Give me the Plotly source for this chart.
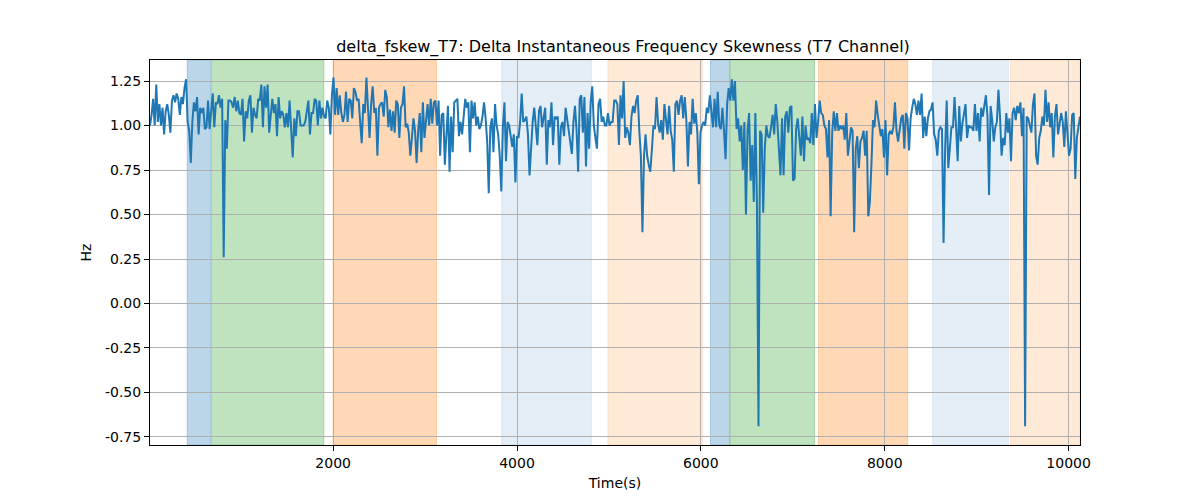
import numpy as np
import plotly.graph_objects as go

title = "delta_fskew_T7: Delta Instantaneous Frequency Skewness (T7 Channel)"
x_label = "Time(s)"
y_label = "Hz"

t_start, t_end = 8, 10124

values = [
    # segment 1
    1.00, 1.06, 1.15, 1.00, 1.23, 1.02, 1.12, 1.00, 1.10, 0.95, 1.08, 1.12, 1.06, 0.96,
    1.14, 1.17, 1.13, 1.18, 1.15, 1.06, 1.16, 1.12, 1.21, 1.26, 1.02, 0.97, 0.79, 1.02, 1.13, 1.08,
    1.16, 0.95, 1.10, 1.07, 1.10, 0.98, 0.99, 1.14, 0.98, 1.10, 1.18, 0.99, 1.13, 1.12, 1.17,
    1.10, 1.15, 0.26, 1.03, 0.87, 1.14, 1.14, 1.13, 1.10, 1.16, 1.08, 1.14, 1.07, 1.06, 1.15, 0.91, 1.08, 1.04, 1.14,
    1.17, 0.96, 1.10, 1.06, 1.04, 1.15, 1.14, 1.23, 0.99, 1.22, 1.10, 1.23, 0.96, 1.06, 1.15, 1.07,
    1.12, 0.94, 1.16, 1.04, 1.08, 1.06, 0.99, 1.07, 0.99, 1.14, 1.00, 0.82, 1.04, 0.94, 1.08, 1.08,
    1.00, 1.00, 1.00, 1.02, 1.08, 1.14, 0.95, 1.07, 1.07, 1.15, 1.14, 1.00, 1.14, 1.04, 1.10, 1.05,
    1.04, 1.14, 1.10, 0.95, 1.17, 1.27, 1.06, 1.21, 1.06, 1.17, 1.07, 1.02, 1.06,
    # segment 2
    1.19, 1.02, 1.15, 1.14, 1.04, 1.21, 1.19, 1.14, 1.15, 1.02, 0.90, 1.12, 1.07, 1.27, 1.11, 0.93,
    1.12, 1.22, 1.07, 1.10, 0.83, 1.10, 1.12, 1.13, 1.05, 1.20, 1.16, 0.99, 1.09, 0.97, 1.08, 0.96,
    1.14, 1.12, 0.93, 1.10, 1.12, 1.22, 0.99, 1.01, 0.96, 0.83, 0.93, 1.04, 0.97, 0.79, 0.97, 1.07,
    0.85, 1.13, 0.93, 1.05, 1.12, 1.00, 1.15, 1.01, 1.13, 1.14, 1.00, 1.14, 0.83, 1.06, 1.07, 0.78,
    0.99, 1.11, 0.74, 1.05, 0.85, 1.13, 1.14, 1.15, 0.94, 1.02, 0.95, 1.07, 1.15, 1.10, 1.13, 0.85,
    1.14, 1.04, 1.13, 1.00, 1.05, 0.98, 1.00, 1.05, 1.13, 1.04, 0.91, 0.62, 0.99, 1.04, 0.85, 1.12,
    1.00, 0.95, 0.83, 0.63, 0.99, 1.13, 0.80, 1.02, 1.00, 0.94, 0.88, 0.95, 0.68, 0.94, 0.93, 1.02,
    # segment 3
    1.18, 1.02, 1.03, 1.05, 0.95, 0.72, 0.89, 1.02, 1.10, 0.97, 0.89, 1.08, 1.11, 0.99, 1.04, 1.10,
    0.78, 1.03, 0.99, 1.13, 0.89, 1.05, 1.04, 1.05, 0.78, 0.99, 1.02, 0.94, 1.10, 1.04, 0.96, 0.91,
    0.84, 1.02, 1.11, 0.97, 0.74, 1.15, 1.17, 0.96, 1.16, 0.77, 1.07, 0.87, 1.13, 1.22, 1.00, 0.93,
    0.87, 1.12, 1.15, 1.02, 1.05, 1.00, 1.00, 1.07, 1.00, 1.02, 1.02, 1.14, 1.14, 1.12, 0.89, 1.17,
    1.04, 1.25, 0.93, 0.99, 0.96, 0.89, 1.05, 1.11, 1.07, 1.14, 1.17, 0.97, 0.83, 0.40, 0.83, 0.95,
    0.83, 0.78, 0.74, 0.86, 1.00, 0.98, 1.16, 1.01, 0.96, 1.03, 0.92, 1.12, 1.02, 0.95, 1.11, 0.97,
    0.92, 0.74, 1.12, 1.14, 1.06, 1.14, 1.17, 1.04, 1.16, 1.03, 0.77, 1.02, 0.95, 1.15, 1.01, 1.07,
    0.96, 0.67, 0.96, 1.00, 1.02, 1.00, 1.10, 1.07, 1.17, 1.06, 0.99, 1.15, 0.99, 1.19, 1.00, 0.98,
    # segment 4
    1.10, 0.97, 0.81, 1.12, 1.21, 1.14, 1.26, 1.14, 1.25, 0.98, 1.04, 0.91, 1.00, 0.75,
    1.02, 0.50, 0.97, 1.07, 0.69, 0.89, 0.57, 1.07, 0.57, -0.69, 0.97, 0.95, 0.51, 0.87, 1.00, 0.94,
    0.93, 0.99, 1.06, 0.95, 1.12, 1.02, 0.85, 0.72, 1.04, 0.72, 1.05, 1.08, 0.96, 1.10, 1.11, 0.69, 0.70, 0.98,
    1.04, 0.93, 0.83, 1.05, 0.80, 1.00, 0.92, 0.93, 0.90, 1.07, 0.89, 1.12, 0.93, 1.02, 1.14, 1.07,
    1.06, 1.00, 0.98, 0.82, 1.03, 0.49, 0.96, 1.08, 0.97, 1.07, 0.97, 1.00, 0.98, 1.00, 0.92, 1.07,
    0.83, 0.91, 0.99, 0.97, 0.40, 0.87, 0.94, 0.76, 0.91, 0.93, 0.97, 0.83, 0.97, 0.49, 0.57, 0.78,
    1.03, 0.99, 1.14, 1.06, 1.00, 0.94, 0.98, 0.82, 1.03, 0.72, 0.95, 0.97, 0.95, 0.99, 1.13, 0.97,
    0.91, 0.97, 1.04, 1.06,
    # segment 5
    0.87, 1.07, 1.04, 0.86, 1.04, 1.10, 1.15, 1.12, 1.06, 1.14, 1.06, 1.18, 0.93, 1.05, 0.94, 1.04,
    1.08, 1.09, 1.13, 0.95, 0.92, 0.83, 0.97, 0.99, 0.98, 0.34, 0.87, 1.14, 0.76, 0.87, 0.99, 0.99,
    1.16, 0.99, 0.80, 1.11, 0.91, 1.01, 1.07, 1.12, 0.93, 1.00, 0.99, 0.99, 0.97, 1.12, 0.97, 1.07,
    0.91, 1.10, 1.05, 1.10, 1.17, 1.05, 0.61, 1.11, 1.03, 0.91, 0.99, 1.02, 1.20, 1.05, 0.83, 0.93,
    0.89, 1.07, 0.96, 1.04, 0.80, 1.07, 1.10, 1.03, 1.11, 1.07, 1.13, 0.94, 1.10, -0.69, 1.05, 1.04,
    1.00, 0.96, 1.12, 1.18, 0.83, 0.78, 0.93, 0.97, 1.05, 1.00, 1.20, 1.02, 1.13, 0.99, 1.07, 0.82,
    1.05, 1.12, 0.95, 1.00, 1.07, 1.02, 0.88, 1.08, 0.95, 0.83, 0.87, 1.06, 1.07, 0.70, 0.93, 0.99,
    1.05,
]

times = np.linspace(t_start, t_end, len(values))

# shaded intervals: (start, end, colour)
span_starts = [413, 678, 2000, 3834, 4989, 6105, 6320, 7279, 8522, 9366]
span_ends = [667, 1899, 3124, 4809, 6015, 6312, 7236, 8250, 9345, 10124]
span_colors = [
    "rgba(31,119,180,0.30)", "rgba(44,160,44,0.30)", "rgba(255,127,14,0.30)",
    "rgba(31,119,180,0.12)", "rgba(255,127,14,0.16)",
    "rgba(31,119,180,0.30)", "rgba(44,160,44,0.30)", "rgba(255,127,14,0.30)",
    "rgba(31,119,180,0.12)", "rgba(255,127,14,0.16)",
]

x_ticks = [2000, 4000, 6000, 8000, 10000]
y_ticks = [-0.75, -0.50, -0.25, 0.00, 0.25, 0.50, 0.75, 1.00, 1.25]

fig = go.Figure()
for s, e, c in zip(span_starts, span_ends, span_colors):
    fig.add_vrect(x0=s, x1=e, fillcolor=c, line=dict(color=c, width=1), layer="below")

fig.add_trace(go.Scatter(x=times, y=values, mode="lines",
                         line=dict(color="#1f77b4", width=2), showlegend=False))

font = "DejaVu Sans, sans-serif"
fig.update_layout(
    width=1200, height=500, autosize=False,
    paper_bgcolor="white", plot_bgcolor="white",
    margin=dict(l=142, r=128, t=52, b=63),
    title=dict(text=title, x=0.5125, xanchor="center", y=0.924, yanchor="middle",
               font=dict(family=font, size=16, color="black")),
    font=dict(family=font, size=14, color="black"),
)
axis_common = dict(showline=True, linecolor="black", linewidth=1, mirror=True,
                   ticks="outside", ticklen=5, tickcolor="black",
                   showgrid=True, gridcolor="#b0b0b0", gridwidth=1, zeroline=False,
                   tickfont=dict(family=font, size=14, color="black"))
fig.update_xaxes(range=[t_start, t_end], tickvals=x_ticks, ticktext=[str(v) for v in x_ticks],
                 title=dict(text=x_label, font=dict(family=font, size=14), standoff=8),
                 **axis_common)
fig.update_yaxes(range=[-0.795, 1.368], tickvals=y_ticks, ticktext=[f"{v:.2f}" for v in y_ticks],
                 title=dict(text=y_label, font=dict(family=font, size=14), standoff=10),
                 **axis_common)

fig.write_html("out.html")
